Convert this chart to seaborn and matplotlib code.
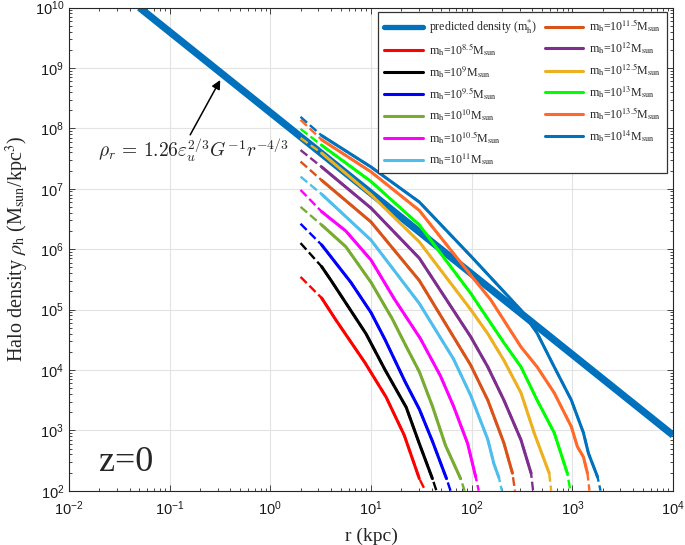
import numpy as np
import matplotlib
matplotlib.use('Agg')
import matplotlib.pyplot as plt
import seaborn as sns
from matplotlib.lines import Line2D
from matplotlib.ticker import LogLocator, NullFormatter

# ---------------- data ----------------
# predicted density power law  rho ~ r^(-4/3)
pred_r = [0.05, 1.0e4]
pred_rho = [1.0e10, 8.3e2]

mass_exp = ['8.5', '9', '9.5', '10', '10.5', '11',
            '11.5', '12', '12.5', '13', '13.5', '14']

# log10 r (kpc) and log10 rho (Msun/kpc^3); first point = start of the dashed fit,
# last point = end of the dashed fit, the ones between are the simulation curve
logr_m85 = [0.30, 0.51, 0.65, 0.94, 1.15, 1.33, 1.48, 1.54]
logrho_m85 = [5.54, 5.19, 4.83, 4.12, 3.55, 2.92, 2.20, 2.00]

logr_m9 = [0.30, 0.51, 0.60, 0.95, 1.14, 1.35, 1.48, 1.61, 1.65]
logrho_m9 = [6.10, 5.71, 5.49, 4.60, 4.00, 3.38, 2.78, 2.20, 2.00]

logr_m95 = [0.30, 0.51, 0.80, 1.00, 1.14, 1.34, 1.48, 1.61, 1.75, 1.79]
logrho_m95 = [6.42, 6.07, 5.45, 4.95, 4.50, 3.80, 3.35, 2.82, 2.20, 2.00]

logr_m10 = [0.30, 0.51, 0.75, 1.00, 1.21, 1.34, 1.48, 1.61, 1.74, 1.89, 1.93]
logrho_m10 = [6.70, 6.40, 6.04, 5.45, 4.85, 4.42, 3.97, 3.40, 2.75, 2.20, 2.00]

logr_m105 = [0.30, 0.51, 0.75, 1.00, 1.23, 1.49, 1.69, 1.82, 1.96, 2.04, 2.07]
logrho_m105 = [6.98, 6.62, 6.30, 5.82, 5.18, 4.52, 3.90, 3.40, 2.78, 2.23, 2.00]

logr_m11 = [0.30, 0.51, 1.00, 1.48, 1.82, 1.99, 2.16, 2.22, 2.27, 2.30]
logrho_m11 = [7.20, 6.91, 6.15, 5.10, 4.18, 3.58, 2.85, 2.45, 2.22, 2.00]

logr_m115 = [0.30, 0.51, 1.00, 1.48, 1.99, 2.16, 2.32, 2.405, 2.43]
logrho_m115 = [7.45, 7.14, 6.45, 5.48, 4.08, 3.50, 2.79, 2.29, 2.00]

logr_m12 = [0.30, 0.51, 1.00, 1.48, 1.99, 2.16, 2.32, 2.49, 2.59, 2.61]
logrho_m12 = [7.64, 7.36, 6.68, 5.85, 4.55, 4.05, 3.50, 2.84, 2.29, 2.00]

logr_m125 = [0.30, 0.51, 1.00, 1.48, 1.99, 2.16, 2.32, 2.49, 2.62, 2.77, 2.79]
logrho_m125 = [7.84, 7.59, 6.90, 6.12, 5.00, 4.60, 4.16, 3.62, 2.96, 2.29, 2.00]

logr_m13 = [0.30, 0.51, 1.00, 1.48, 1.99, 2.09, 2.32, 2.49, 2.65, 2.82, 2.95, 2.98]
logrho_m13 = [7.99, 7.72, 7.12, 6.40, 5.27, 5.02, 4.45, 4.05, 3.50, 2.96, 2.29, 2.00]

logr_m135 = [0.30, 0.51, 1.00, 1.48, 2.00, 2.19, 2.49, 2.65, 2.82, 2.99, 3.05, 3.11, 3.15, 3.17]
logrho_m135 = [8.14, 7.81, 7.28, 6.64, 5.55, 5.16, 4.38, 4.05, 3.62, 3.06, 2.73, 2.56, 2.29, 2.00]

logr_m14 = [0.30, 0.51, 1.00, 1.48, 2.00, 2.49, 2.65, 2.82, 2.99, 3.11, 3.16, 3.25, 3.28]
logrho_m14 = [8.19, 7.88, 7.36, 6.78, 5.87, 4.99, 4.61, 4.05, 3.50, 2.96, 2.62, 2.23, 2.00]

all_logr = [logr_m85, logr_m9, logr_m95, logr_m10, logr_m105, logr_m11,
            logr_m115, logr_m12, logr_m125, logr_m13, logr_m135, logr_m14]
all_logrho = [logrho_m85, logrho_m9, logrho_m95, logrho_m10, logrho_m105, logrho_m11,
              logrho_m115, logrho_m12, logrho_m125, logrho_m13, logrho_m135, logrho_m14]

# ---------------- styles ----------------
pred_color = '#0072BD'
colors = ['#FF0000', '#000000', '#0000FF', '#77AC30', '#FF00FF', '#4DBEEE',
          '#D95319', '#7E2F8E', '#EDB120', '#00FF00', '#FF6929', '#0072BD']

sns.set_style('ticks')
plt.rcParams['font.family'] = ['Liberation Serif', 'DejaVu Serif']
plt.rcParams['mathtext.fontset'] = 'stix'

fig = plt.figure(figsize=(6.85, 5.45), dpi=100)
ax = fig.add_axes([0.1007, 0.0996, 0.8818, 0.8866])
ax.set_xscale('log')
ax.set_yscale('log')

# predicted density line
sns.lineplot(x=pred_r, y=pred_rho, ax=ax, color=pred_color, lw=5.2,
             solid_capstyle='butt', zorder=2)

for lr, lrho, c in zip(all_logr, all_logrho, colors):
    r = 10.0 ** np.array(lr)
    rho = 10.0 ** np.array(lrho)
    sns.lineplot(x=r, y=rho, ax=ax, color=c, lw=1.7, linestyle='--', zorder=3)
    sns.lineplot(x=r[1:-1], y=rho[1:-1], ax=ax, color=c, lw=2.2, zorder=4)

ax.set_xlim(1e-2, 1e4)
ax.set_ylim(1e2, 1e10)

ax.xaxis.set_major_locator(LogLocator(base=10, numticks=20))
ax.yaxis.set_major_locator(LogLocator(base=10, numticks=20))
ax.xaxis.set_minor_locator(LogLocator(base=10, subs=np.arange(2, 10), numticks=200))
ax.yaxis.set_minor_locator(LogLocator(base=10, subs=np.arange(2, 10), numticks=200))
ax.xaxis.set_minor_formatter(NullFormatter())
ax.yaxis.set_minor_formatter(NullFormatter())

ax.tick_params(which='both', direction='in', top=True, right=True, width=0.6,
               color='#262626')
ax.tick_params(which='major', length=4.5, labelsize=10.5,
               labelfontfamily='Liberation Sans', labelcolor='#1a1a1a')
ax.tick_params(axis='x', which='major', pad=6)
ax.tick_params(which='minor', length=2.5)
ax.grid(True, which='major', color='#e3e3e3', lw=0.8)
ax.set_axisbelow(True)
for s in ax.spines.values():
    s.set_color('#262626')
    s.set_linewidth(0.8)

ax.set_xlabel('r (kpc)', fontsize=14, labelpad=7)
ax.set_ylabel(r'Halo density $\rho_{\rm h}$ (M$_{\rm sun}$/kpc$^{3}$)', fontsize=14.5,
              labelpad=3)

# annotation: arrow and formula
ax.annotate('', xy=(0.318, 6.3e8), xytext=(0.16, 7.8e7),
            arrowprops=dict(arrowstyle='-|>', color='black', lw=1.1,
                            mutation_scale=13, shrinkA=0, shrinkB=0))
ax.text(0.171, 4.4e7, r'$\rho_r\, =\, 1.26\varepsilon_u^{2/3}G^{-1}r^{-4/3}$',
        ha='center', va='center', fontsize=14, math_fontfamily='cm')

ax.text(0.0366, 10 ** 2.46, 'z=0', fontsize=26, ha='center', va='center')

# legend
handles = [Line2D([], [], color=pred_color, lw=3.8)]
labels = [r'predicted density (m$_{\rm h}^{*}$)']
for m, c in zip(mass_exp, colors):
    handles.append(Line2D([], [], color=c, lw=2.2))
    labels.append(r'm$_{\rm h}$=10$^{' + m + r'}$M$_{\rm sun}$')

leg = ax.legend(handles, labels, ncol=2, loc='upper right',
                bbox_to_anchor=(0.990, 0.991), borderaxespad=0, fontsize=8.6,
                frameon=True, fancybox=False, framealpha=1, edgecolor='#333333',
                handlelength=3.2, labelspacing=0.48, columnspacing=0.7,
                handletextpad=0.5, borderpad=0.5)
leg.get_frame().set_linewidth(0.9)
leg.set_zorder(10)

fig.savefig('out.png', dpi=100)
